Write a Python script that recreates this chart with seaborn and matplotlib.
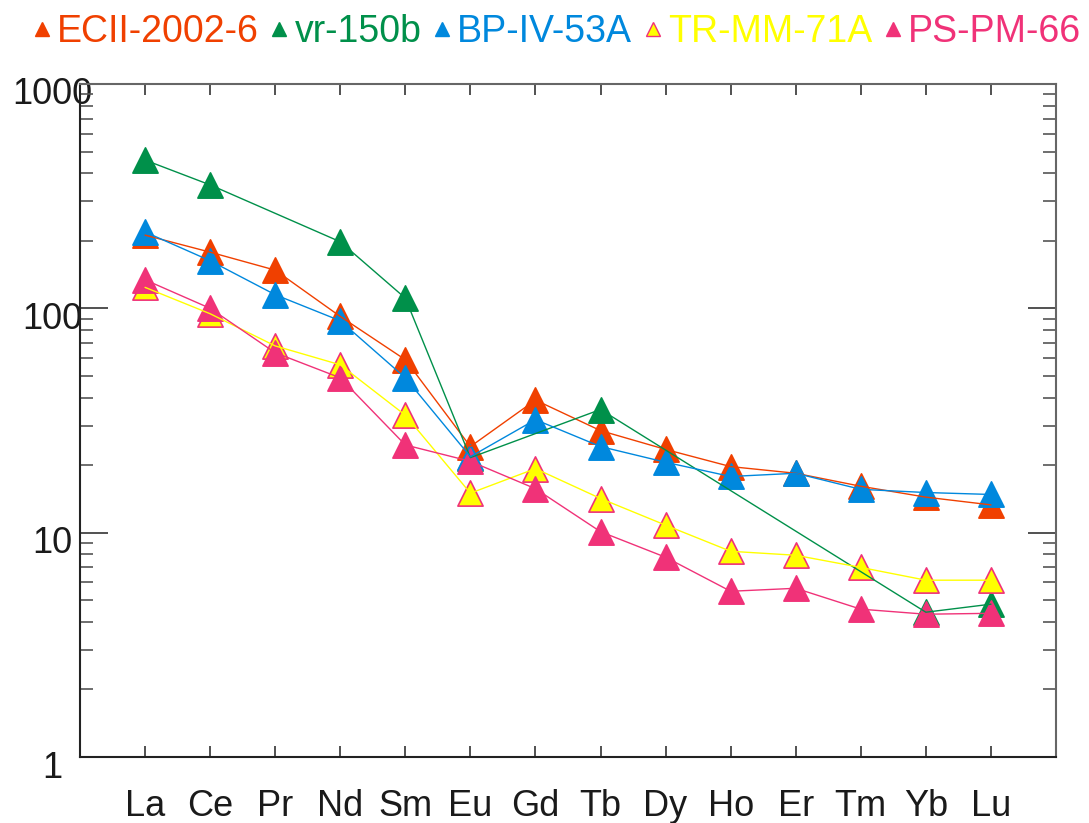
import numpy as np
import pandas as pd
import matplotlib
matplotlib.use("Agg")
import matplotlib.pyplot as plt
import matplotlib.transforms as mtransforms
from matplotlib.lines import Line2D
from matplotlib.ticker import LogLocator, NullFormatter, FixedLocator
import seaborn as sns

# REE pattern data
elements = ["La", "Ce", "Pr", "Nd", "Sm", "Eu", "Gd", "Tb", "Dy", "Ho", "Er", "Tm", "Yb", "Lu"]

ecii_2002_6 = [212, 178, 148, 92, 59, 24.2, 39, 28.5, 23.5, 19.7, 18.4, 16.1, 14.4, 13.3]
vr_150b = [458, 355, np.nan, 198, 111, 21.6, np.nan, 35.4, np.nan, np.nan, np.nan, np.nan, 4.42, 4.8]
bp_iv_53a = [219, 163, 115, 88, 49, 21.8, 31.9, 24.2, 20.6, 17.8, 18.4, 15.6, 15.1, 14.8]
tr_mm_71a = [124, 94.6, 68, 56, 33.4, 15.0, 19.3, 14.2, 10.8, 8.26, 7.93, 7.0, 6.14, 6.14]
ps_pm_66 = [134, 100, 63.4, 49, 24.6, 20.8, 15.7, 10.1, 7.77, 5.48, 5.65, 4.56, 4.33, 4.37]

samples = ["ECII-2002-6", "vr-150b", "BP-IV-53A", "TR-MM-71A", "PS-PM-66"]
series = [ecii_2002_6, vr_150b, bp_iv_53a, tr_mm_71a, ps_pm_66]
face_colors = ["#F04000", "#00904A", "#0088DD", "#FFFF00", "#F03278"]
edge_colors = ["#F04000", "#00904A", "#0088DD", "#F03278", "#F03278"]
line_colors = ["#F04000", "#00904A", "#0088DD", "#FFFF00", "#F03278"]

# long table for seaborn
rows = []
for name, vals in zip(samples, series):
    for i, (el, v) in enumerate(zip(elements, vals)):
        rows.append({"sample": name, "pos": i + 1, "element": el, "value": v})
df = pd.DataFrame(rows)

sns.set_style("ticks")
plt.rcParams["font.family"] = ["Liberation Sans", "DejaVu Sans"]

fig = plt.figure(figsize=(10.89, 8.23), dpi=100)
ax = fig.add_axes([80 / 1089, 1 - 757 / 823, (1056 - 80) / 1089, (757 - 84) / 823])

# markers first, lines drawn over them
for name, fc, ec in zip(samples, face_colors, edge_colors):
    sub = df[df["sample"] == name].dropna()
    sns.scatterplot(data=sub, x="pos", y="value", marker="^", s=330, color=fc,
                    edgecolor=ec, linewidth=1.2, ax=ax, zorder=2, legend=False)

sns.lineplot(data=df.dropna(), x="pos", y="value", hue="sample", hue_order=samples,
             palette=line_colors, linewidth=1.0, ax=ax, zorder=3, legend=False,
             estimator=None, sort=True)

ax.set_yscale("log")
ax.set_ylim(1, 1000)
ax.set_xlim(0, 15)
ax.set_xlabel("")
ax.set_ylabel("")

ax.xaxis.set_major_locator(FixedLocator(range(1, 15)))
ax.set_xticklabels(elements)
ax.yaxis.set_major_locator(FixedLocator([1, 10, 100, 1000]))
ax.set_yticklabels(["1", "10", "100", "1000"])
ax.yaxis.set_minor_locator(LogLocator(base=10, subs=np.arange(2, 10)))
ax.yaxis.set_minor_formatter(NullFormatter())

ax.tick_params(axis="x", which="major", direction="in", length=8, width=1.2,
               top=True, bottom=True, labelsize=26, pad=23, colors="#333333",
               labelcolor="#1a1a1a")
ax.tick_params(axis="y", which="major", direction="in", length=20, width=1.2,
               left=True, right=True, labelsize=26, pad=20, colors="#333333",
               labelcolor="#1a1a1a")
ax.tick_params(axis="y", which="minor", direction="in", length=9.5, width=1.2,
               left=True, right=True, colors="#555555")

for lab in ax.get_yticklabels():
    lab.set_horizontalalignment("center")
    lab.set_transform(lab.get_transform() +
                      mtransforms.ScaledTranslation(0, -7 / 100, fig.dpi_scale_trans))

for side in ["left", "bottom"]:
    ax.spines[side].set_color("#222222")
    ax.spines[side].set_linewidth(1.5)
for side in ["top", "right"]:
    ax.spines[side].set_color("#666666")
    ax.spines[side].set_linewidth(1.5)
    ax.spines[side].set_visible(True)

# legend across the top
handles = [Line2D([], [], linestyle="none", marker="^", markersize=10.5,
                  markerfacecolor=fc, markeredgecolor=ec, markeredgewidth=1.0)
           for fc, ec in zip(face_colors, edge_colors)]
fig.legend(handles, samples, loc="center", bbox_to_anchor=(0.512, 0.961), ncol=5,
           frameon=False, fontsize=27, handlelength=0.4, handletextpad=0.2,
           columnspacing=0.35, labelcolor=line_colors, borderpad=0, borderaxespad=0)

fig.savefig("out.png", dpi=100)
